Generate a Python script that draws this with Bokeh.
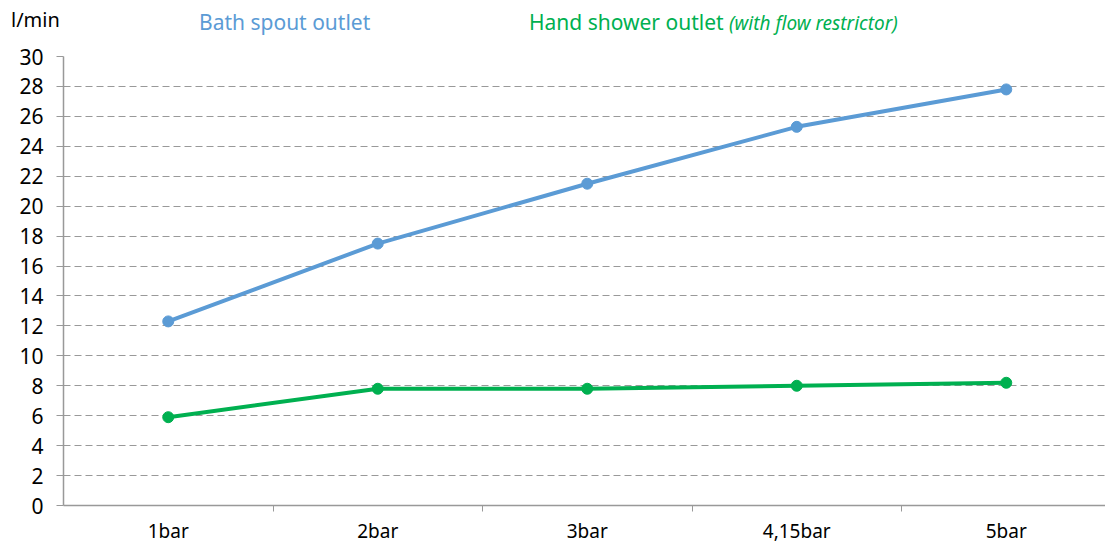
from bokeh.plotting import figure
from bokeh.models import Range1d, FixedTicker, ColumnDataSource, Div
from bokeh.layouts import column
from bokeh.embed import file_html
from bokeh.resources import INLINE

categories = ["1bar", "2bar", "3bar", "4,15bar", "5bar"]
bath_spout = [12.3, 17.5, 21.5, 25.3, 27.8]
hand_shower = [5.9, 7.8, 7.8, 8.0, 8.2]
y_ticks = list(range(0, 31, 2))

unit_label = "l/min"
series_names = ["Bath spout outlet", "Hand shower outlet"]
series_note = "(with flow restrictor)"

FONT = "Noto Sans"
BLUE = "#5B9BD5"
GREEN = "#00B050"
GRID = "#999999"

xs = list(range(1, len(categories) + 1))

W = 1105
DIV_H = 40
FL = 63                  # frame left
FT = 56 - DIV_H          # frame top inside figure
FB = 505 - DIV_H         # frame bottom inside figure
H = 546 - DIV_H

header = Div(
    width=W, height=DIV_H, margin=(0, 0, 0, 0),
    text=(
        f'<div style="position:relative;width:{W}px;height:{DIV_H}px;font-family:\'{FONT}\';white-space:nowrap;">'
        f'<span style="position:absolute;left:11px;top:6px;font-size:20px;color:black;">{unit_label}</span>'
        f'<span style="position:absolute;left:199px;top:7px;font-size:21px;color:{BLUE};">{series_names[0]}</span>'
        f'<span style="position:absolute;left:529px;top:7px;font-size:21px;color:{GREEN};">{series_names[1]} '
        f'<i style="font-size:19px;">{series_note}</i></span>'
        '</div>'
    ),
)

p = figure(width=W, height=H, output_backend="svg", toolbar_location=None,
           x_range=Range1d(0.5, 0.5 + (W - FL) / 209.5), y_range=Range1d(0, 30),
           min_border_left=FL, min_border_right=0, min_border_top=FT, min_border_bottom=H - FB,
           margin=(0, 0, 0, 0))
p.outline_line_color = None

# x axis
p.xaxis.ticker = FixedTicker(ticks=xs, minor_ticks=[1.5, 2.5, 3.5, 4.5])
p.xaxis.major_label_overrides = {i + 1: c for i, c in enumerate(categories)}
p.xaxis.major_tick_line_color = None
p.xaxis.minor_tick_line_color = GRID
p.xaxis.minor_tick_out = 6
p.xaxis.minor_tick_in = 0
p.xaxis.axis_line_color = GRID
p.xaxis.axis_line_width = 1.5
p.xaxis.major_label_standoff = 6
p.xaxis.major_label_text_font = FONT
p.xaxis.major_label_text_font_size = "19px"
p.xaxis.major_label_text_color = "black"
p.xgrid.grid_line_color = None

# y axis
p.yaxis.ticker = FixedTicker(ticks=y_ticks)
p.yaxis.minor_tick_line_color = None
p.yaxis.major_tick_line_color = GRID
p.yaxis.major_tick_out = 7
p.yaxis.major_tick_in = 0
p.yaxis.axis_line_color = GRID
p.yaxis.axis_line_width = 1.5
p.yaxis.major_label_standoff = 13
p.yaxis.major_label_text_font = FONT
p.yaxis.major_label_text_font_size = "21px"
p.yaxis.major_label_text_color = "black"
p.ygrid.grid_line_color = GRID
p.ygrid.grid_line_dash = "7 4"
p.ygrid.grid_line_width = 1.2

src = ColumnDataSource(dict(x=xs, bath=bath_spout, hand=hand_shower))
p.line("x", "bath", source=src, line_color=BLUE, line_width=4)
p.scatter("x", "bath", source=src, size=11, fill_color=BLUE, line_color=BLUE)
p.line("x", "hand", source=src, line_color=GREEN, line_width=4)
p.scatter("x", "hand", source=src, size=11, fill_color=GREEN, line_color=GREEN)

layout = column(header, p, spacing=0, margin=(0, 0, 0, 0))
open("out.html", "w").write(file_html(layout, INLINE))
